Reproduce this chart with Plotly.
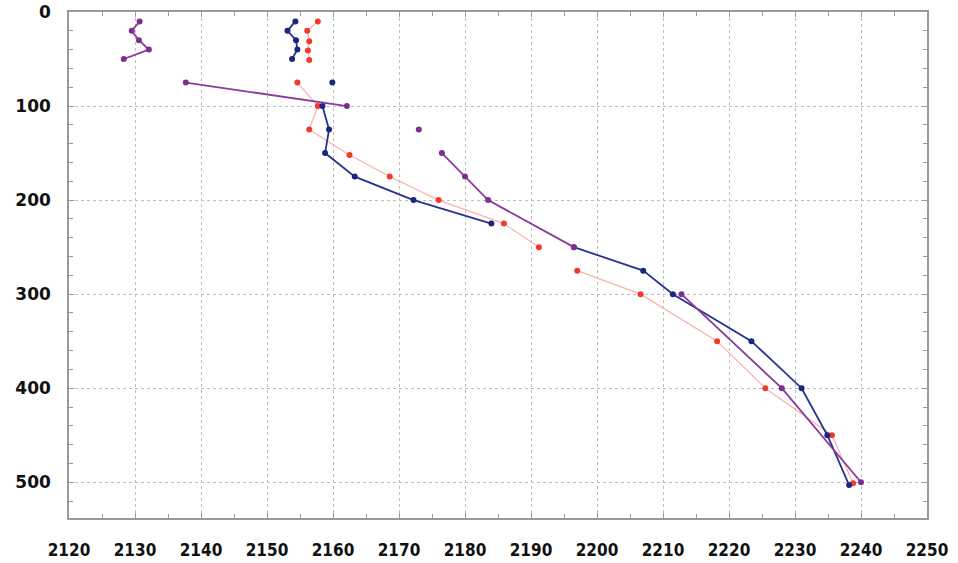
import plotly.graph_objects as go

# Purple series (None = gap in line)
purple_depth = [10, 20, 30, 40, 50, None, 75, 100, None, 125, None, 150, 175, 200, 250, None, 300, 400, 500]
purple_val = [2130.7, 2129.5, 2130.6, 2132.1, 2128.3, None, 2137.7, 2162.1, None, 2173.0, None, 2176.5, 2180.0, 2183.5, 2196.5, None, 2212.8, 2228.0, 2240.0]

# Blue series
blue_depth = [10, 20, 30, 40, 50, None, 75, None, 100, 125, 150, 175, 200, 225, None, 250, 275, 300, 350, 400, 450, 503]
blue_val = [2154.3, 2153.1, 2154.4, 2154.6, 2153.8, None, 2159.9, None, 2158.4, 2159.4, 2158.8, 2163.3, 2172.2, 2184.0, None, 2196.5, 2207.0, 2211.5, 2223.4, 2231.0, 2234.9, 2238.2]

# Red series
red_depth = [10, 20, 31, 41, 51, None, 75, 100, 125, 152, 175, 200, 225, 250, None, 275, 300, 350, 400, 450, 501]
red_val = [2157.7, 2156.1, 2156.4, 2156.2, 2156.4, None, 2154.6, 2157.7, 2156.4, 2162.5, 2168.6, 2176.0, 2185.9, 2191.2, None, 2197.0, 2206.6, 2218.2, 2225.5, 2235.6, 2238.8]

x_ticks = list(range(2120, 2251, 10))
y_ticks = [0, 100, 200, 300, 400, 500]

fig = go.Figure()
fig.add_trace(go.Scatter(x=red_val, y=red_depth, mode="lines+markers",
                         line=dict(color="#f7b3ad", width=1.2),
                         marker=dict(color="#f23a2c", size=6),
                         connectgaps=False, showlegend=False))
fig.add_trace(go.Scatter(x=blue_val, y=blue_depth, mode="lines+markers",
                         line=dict(color="#26338f", width=1.8),
                         marker=dict(color="#1c2580", size=6),
                         connectgaps=False, showlegend=False))
fig.add_trace(go.Scatter(x=purple_val, y=purple_depth, mode="lines+markers",
                         line=dict(color="#8a3a9c", width=1.8),
                         marker=dict(color="#7d2f8f", size=6),
                         connectgaps=False, showlegend=False))

axis_common = dict(showline=True, linecolor="#9a9a9a", linewidth=1.5, mirror="ticks",
                   ticks="inside", ticklen=5, tickcolor="#9a9a9a",
                   showgrid=True, gridcolor="#bdbdbd", griddash="dot", gridwidth=1,
                   zeroline=False, automargin=False)

fig.update_xaxes(range=[2120, 2250], tickmode="array", tickvals=x_ticks,
                 ticktext=[str(v) for v in x_ticks],
                 minor=dict(dtick=5, ticks="inside", ticklen=4, tickcolor="#9a9a9a", showgrid=False),
                 tickfont=dict(family="DejaVu Sans Condensed", size=17, color="#111111", weight="bold"),
                 ticklabelstandoff=16, **axis_common)
fig.update_yaxes(range=[538, 0], tickmode="array", tickvals=y_ticks,
                 ticktext=[str(v) for v in y_ticks],
                 minor=dict(dtick=20, ticks="inside", ticklen=4, tickcolor="#9a9a9a", showgrid=False),
                 tickfont=dict(family="DejaVu Sans", size=17, color="#111111", weight="bold"),
                 ticklabelstandoff=13, **axis_common)

fig.update_layout(width=958, height=563,
                  margin=dict(l=69, r=31, t=12, b=45),
                  paper_bgcolor="white", plot_bgcolor="white",
                  font=dict(family="DejaVu Sans", size=16, color="#111111"))

fig.write_html("out.html")
